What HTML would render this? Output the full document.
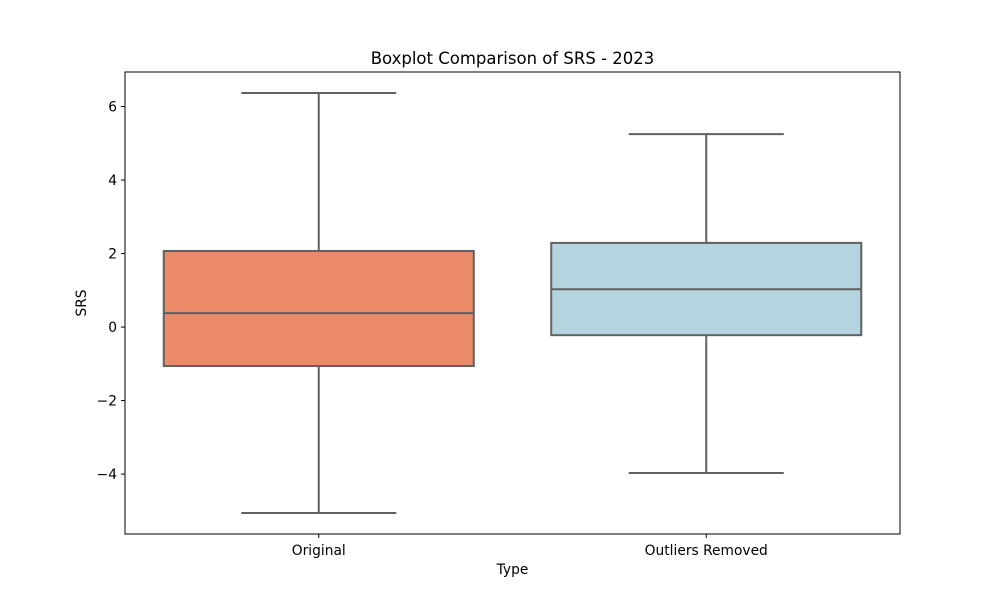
<!DOCTYPE html>
<html><head><meta charset="utf-8"><style>
body{margin:0;background:#fff;font-family:"Liberation Sans","DejaVu Sans",sans-serif;}
</style></head><body>
<svg id="chart" width="1000" height="600" xmlns="http://www.w3.org/2000/svg" font-family="DejaVu Sans, Liberation Sans, sans-serif">
<rect width="1000" height="600" fill="#fff"/>
</svg>
<script>
const categories=["Original","Outliers Removed"];
const whiskerLow=[-5.06,-3.97];
const q1=[-1.06,-0.22];
const medians=[0.38,1.03];
const q3=[2.07,2.29];
const whiskerHigh=[6.37,5.25];
const colors=["#ea8a68","#b4d5e0"];
const yTicks=[-4,-2,0,2,4,6];
const yTickLabels=["\u22124","\u22122","0","2","4","6"];

const svg=document.getElementById('chart');
const NS="http://www.w3.org/2000/svg";
const L=125,R=900,T=72,B=534,yMin=-5.63,yMax=6.94;
const y=v=>B-(v-yMin)/(yMax-yMin)*(B-T);
const band=(R-L)/categories.length;
const x=i=>L+band*(i+0.5);
function mk(tag,attrs,parent){const e=document.createElementNS(NS,tag);for(const k in attrs)e.setAttribute(k,attrs[k]);(parent||svg).appendChild(e);return e;}
const grey="#616161";
categories.forEach((c,i)=>{
  const g=mk('g',{});
  
  
  const cx=x(i),bw=band*0.8,cw=bw/2;
  mk('line',{x1:cx,x2:cx,y1:y(whiskerHigh[i]),y2:y(q3[i]),stroke:grey,'stroke-width':2},g);
  mk('line',{x1:cx,x2:cx,y1:y(q1[i]),y2:y(whiskerLow[i]),stroke:grey,'stroke-width':2},g);
  mk('line',{x1:cx-cw/2,x2:cx+cw/2,y1:y(whiskerHigh[i]),y2:y(whiskerHigh[i]),stroke:grey,'stroke-width':2},g);
  mk('line',{x1:cx-cw/2,x2:cx+cw/2,y1:y(whiskerLow[i]),y2:y(whiskerLow[i]),stroke:grey,'stroke-width':2},g);
  mk('rect',{x:cx-bw/2,y:y(q3[i]),width:bw,height:y(q1[i])-y(q3[i]),fill:colors[i],stroke:grey,'stroke-width':2},g);
  mk('line',{x1:cx-bw/2,x2:cx+bw/2,y1:y(medians[i]),y2:y(medians[i]),stroke:grey,'stroke-width':2},g);
  mk('line',{x1:cx,x2:cx,y1:B,y2:B+4,stroke:'#000','stroke-width':1});
  const t=mk('text',{x:cx,y:B+21,'text-anchor':'middle','font-size':13.8});
  t.textContent=c;
  
  
});
yTicks.forEach((v,i)=>{
  mk('line',{x1:L-4,x2:L,y1:y(v),y2:y(v),stroke:'#000','stroke-width':1});
  const t=mk('text',{x:L-8,y:y(v)+5,'text-anchor':'end','font-size':13.8});
  t.textContent=yTickLabels[i];
  
  
});
const f=mk('rect',{x:L,y:T,width:R-L,height:B-T,fill:'none',stroke:'#000','stroke-width':1});


let t=mk('text',{x:(L+R)/2,y:64,'text-anchor':'middle','font-size':16.5});
t.textContent="Boxplot Comparison of SRS - 2023";


t=mk('text',{x:(L+R)/2,y:574,'text-anchor':'middle','font-size':13.8});
t.textContent="Type";


t=mk('text',{x:86,y:(T+B)/2,'text-anchor':'middle','font-size':13.8,transform:`rotate(-90 86 ${(T+B)/2})`});
t.textContent="SRS";


</script>
</body></html>
